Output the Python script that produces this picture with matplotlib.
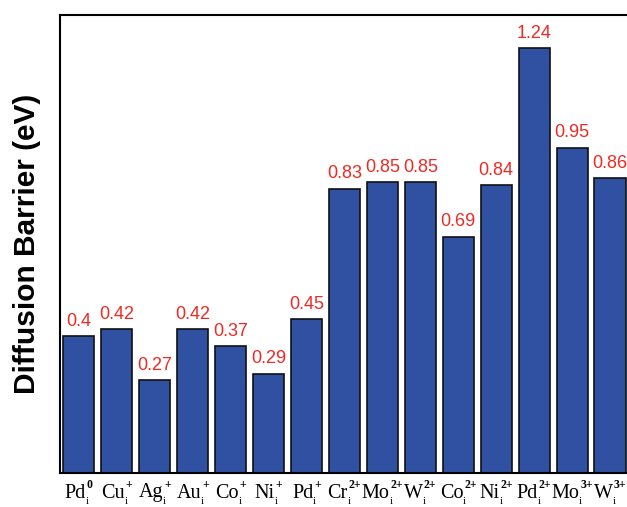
import matplotlib
matplotlib.use("Agg")
import matplotlib.pyplot as plt
from matplotlib.transforms import blended_transform_factory, offset_copy

# Diffusion barriers of single-atom dopants
species = ["Pd", "Cu", "Ag", "Au", "Co", "Ni", "Pd", "Cr", "Mo", "W",
           "Co", "Ni", "Pd", "Mo", "W"]
charges = ["0", "+", "+", "+", "+", "+", "+", "2+", "2+", "2+",
           "2+", "2+", "2+", "3+", "3+"]
barriers = [0.40, 0.42, 0.27, 0.42, 0.37, 0.29, 0.45, 0.83, 0.85, 0.85,
            0.69, 0.84, 1.24, 0.95, 0.86]
value_labels = ["0.4", "0.42", "0.27", "0.42", "0.37", "0.29", "0.45", "0.83",
                "0.85", "0.85", "0.69", "0.84", "1.24", "0.95", "0.86"]

W, H = 627, 507
fig = plt.figure(figsize=(W / 100, H / 100), dpi=100)
ax = fig.add_axes([0.0954, 0.0671, 0.9078, 0.9034])

x = list(range(len(barriers)))
ax.bar(x, barriers, width=0.82, color="#3050A2",
       edgecolor="#111111", linewidth=1.2, zorder=2)

for xi, val, txt in zip(x, barriers, value_labels):
    ax.annotate(txt, (xi, val), xytext=(0, 4.5), textcoords="offset points",
                ha="center", va="bottom", color="#EE2A24", fontsize=13,
                family="Liberation Sans")

ax.set_xticks(x)
ax.set_xticklabels([])
ax.tick_params(axis="x", length=0)
ax.set_yticks([])
ax.set_xlim(-0.5, 14.5)
ax.set_ylim(0, 1.337)

for sp in ax.spines.values():
    sp.set_linewidth(1.5)
    sp.set_color("black")

ax.set_ylabel("Diffusion Barrier (eV)", fontsize=21.5, fontweight="bold",
              family="Liberation Sans")
ax.yaxis.set_label_coords(-0.033, 0.5)

# Category labels: element symbol with subscript "i" and charge superscript
base = blended_transform_factory(ax.transData, fig.transFigure)
serif = "Liberation Serif"
groups = []
for xi, s, c in zip(x, species, charges):
    m = ax.text(xi, 9.5 / H, s, transform=base, ha="left", va="baseline",
                fontsize=14.5, family=serif, clip_on=False)
    sup = ax.text(xi, 19 / H, c, transform=base, ha="left", va="baseline",
                  fontsize=8.5, fontweight="bold", family=serif, clip_on=False)
    sub = ax.text(xi, 3.5 / H, "i", transform=base, ha="left", va="baseline",
                  fontsize=8, family=serif, clip_on=False)
    groups.append((m, sup, sub))

fig.canvas.draw()
renderer = fig.canvas.get_renderer()
for m, sup, sub in groups:
    wm = m.get_window_extent(renderer).width
    ws = max(sup.get_window_extent(renderer).width,
             sub.get_window_extent(renderer).width)
    start = -(wm + 1 + ws) / 2
    m.set_transform(offset_copy(base, fig, x=start, y=0, units="dots"))
    sup.set_transform(offset_copy(base, fig, x=start + wm + 1, y=0, units="dots"))
    sub.set_transform(offset_copy(base, fig, x=start + wm, y=0, units="dots"))

fig.savefig("out.png", dpi=100, facecolor="white")
